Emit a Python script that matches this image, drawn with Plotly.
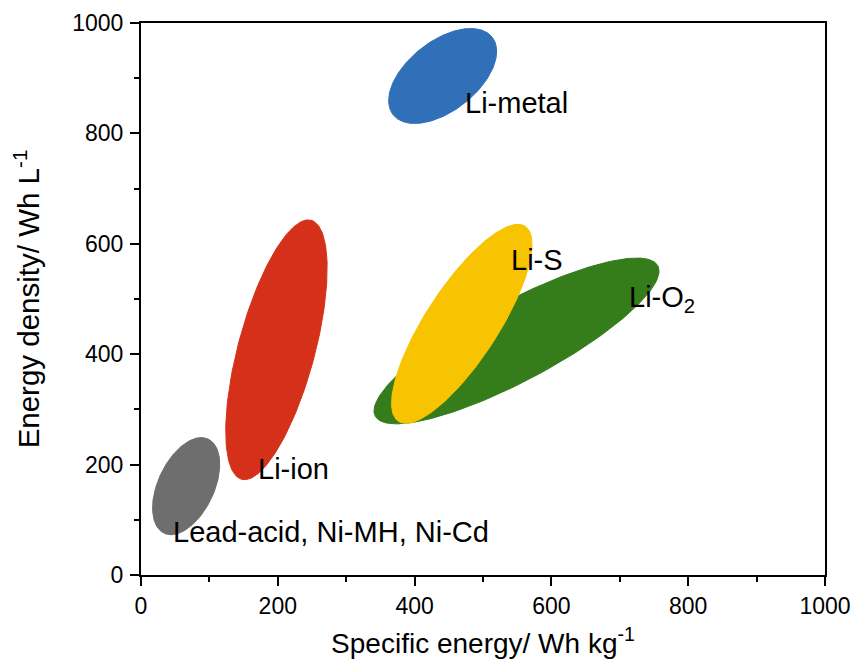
import numpy as np
import plotly.graph_objects as go

# Battery technology regions (data units: Wh/kg, Wh/L)
names = ["Lead-acid, Ni-MH, Ni-Cd", "Li-ion", "Li-metal", "Li-O<sub>2</sub>", "Li-S"]
center_x = [66, 198, 441, 549, 469]
center_y = [161, 408, 904, 424, 455]
semi_major = [76, 196, 92, 234, 170]   # in x-data units
semi_minor = [41, 56, 51, 58, 53]      # in x-data units
angle_deg = [65, 75, 38, 28, 57]       # angle on screen
colors = ["#6E6E6E", "#D5301A", "#3070B8", "#357C1B", "#F8C300"]

label_x = [44, 168, 471, 711, 538]
label_y = [78, 192, 855, 500, 570]

# page body has an 8px default margin; size the figure so the plot area lands where the reference has it
W, H = 851, 662
ML, MR, MT, MB = 133, 34, 15, 95
plot_w = W - ML - MR
plot_h = H - MT - MB
k = plot_h / plot_w  # y pixels per unit relative to x pixels per unit (both ranges 0..1000)

fig = go.Figure()
t = np.linspace(0, 2 * np.pi, 240)
for i in range(len(names)):
    th = np.deg2rad(angle_deg[i])
    a, b = semi_major[i], semi_minor[i]
    X = a * np.cos(t) * np.cos(th) - b * np.sin(t) * np.sin(th)
    Y = a * np.cos(t) * np.sin(th) + b * np.sin(t) * np.cos(th)
    fig.add_trace(go.Scatter(
        x=center_x[i] + X, y=center_y[i] + Y / k,
        mode="lines", fill="toself", fillcolor=colors[i],
        line=dict(color=colors[i], width=1), hoverinfo="skip", showlegend=False))

for i in range(len(names)):
    fig.add_annotation(x=label_x[i], y=label_y[i], text=names[i], showarrow=False,
                       xanchor="left", yanchor="middle",
                       font=dict(size=29, color="black"))

axis_common = dict(
    range=[0, 1000], dtick=200, ticks="outside", ticklen=9, tickwidth=2,
    tickcolor="black", showline=True, linecolor="black", linewidth=2,
    mirror=True, showgrid=False, zeroline=False,
    tickfont=dict(size=23, color="black"),
    minor=dict(dtick=100, ticks="outside", ticklen=5, tickwidth=2, tickcolor="black", showgrid=False),
)

fig.update_layout(
    width=W, height=H,
    margin=dict(l=ML, r=MR, t=MT, b=MB, autoexpand=False),
    paper_bgcolor="white", plot_bgcolor="white",
    font=dict(family="Liberation Sans, Arial, sans-serif", color="black"),
    xaxis=dict(**axis_common, ticklabelstandoff=0,
               title=dict(text="Specific energy/ Wh kg<sup>-1</sup>", font=dict(size=28), standoff=16)),
    yaxis=dict(**axis_common, ticklabelstandoff=2,
               title=dict(text="Energy density/ Wh L<sup>-1</sup>", font=dict(size=29.5), standoff=30)),
)

fig.write_html("out.html")
